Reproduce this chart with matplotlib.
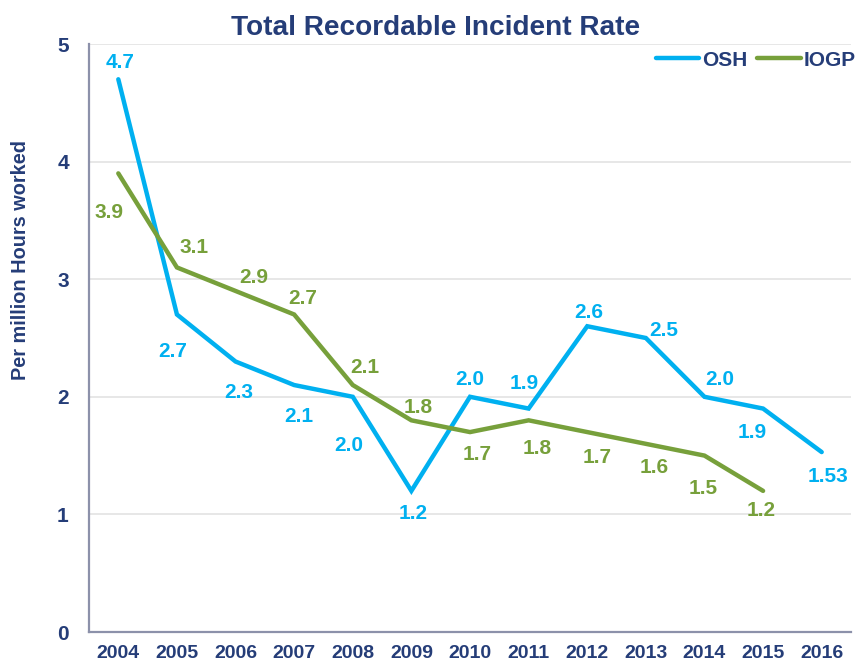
import matplotlib
matplotlib.use("Agg")
import matplotlib.pyplot as plt
from matplotlib.lines import Line2D

plt.rcParams['font.family'] = ['Liberation Sans', 'DejaVu Sans']

years = ["2004", "2005", "2006", "2007", "2008", "2009", "2010",
         "2011", "2012", "2013", "2014", "2015", "2016"]
osh = [4.7, 2.7, 2.3, 2.1, 2.0, 1.2, 2.0, 1.9, 2.6, 2.5, 2.0, 1.9, 1.53]
iogp = [3.9, 3.1, 2.9, 2.7, 2.1, 1.8, 1.7, 1.8, 1.7, 1.6, 1.5, 1.2]
osh_labels = ["4.7", "2.7", "2.3", "2.1", "2.0", "1.2", "2.0", "1.9", "2.6",
              "2.5", "2.0", "1.9", "1.53"]
iogp_labels = ["3.9", "3.1", "2.9", "2.7", "2.1", "1.8", "1.7", "1.8", "1.7",
               "1.6", "1.5", "1.2"]

# label offsets in pixels (dx right, dy down as in image)
osh_off = [(2, -17), (-4, 37), (3, 31), (5, 31), (-4, 49), (2, 23), (0, -17),
           (-4, -25), (2, -14), (18, -8), (15, -17), (-11, 24), (6, 24)]
iogp_off = [(-9, 39), (17, -20), (18, -13), (9, -16), (12, -18), (7, -13),
            (7, 22), (9, 28), (10, 25), (8, 24), (-1, 33), (-2, 20)]

BLUE = "#00B0F0"
GREEN = "#77A03B"
NAVY = "#253D78"
SPINE = "#8C91AA"

fig = plt.figure(figsize=(8.58, 6.64), dpi=100)
ax = fig.add_axes([89 / 858, 1 - 632 / 664, (851 - 89) / 858, (632 - 44) / 664])

x_osh = list(range(len(osh)))
x_iogp = list(range(len(iogp)))
ax.plot(x_osh, osh, color=BLUE, lw=3.2, solid_capstyle='round',
        solid_joinstyle='miter', zorder=3)
ax.plot(x_iogp, iogp, color=GREEN, lw=3.2, solid_capstyle='round',
        solid_joinstyle='miter', zorder=3)

for xi, v, lab, (dx, dy) in zip(x_osh, osh, osh_labels, osh_off):
    ax.annotate(lab, (xi, v), xytext=(dx, -dy), textcoords='offset pixels',
                ha='center', va='center', color=BLUE, fontsize=15,
                fontweight='bold', zorder=4)
for xi, v, lab, (dx, dy) in zip(x_iogp, iogp, iogp_labels, iogp_off):
    ax.annotate(lab, (xi, v), xytext=(dx, -dy), textcoords='offset pixels',
                ha='center', va='center', color=GREEN, fontsize=15,
                fontweight='bold', zorder=4)

ax.set_xlim(-0.5, len(years) - 0.5)
ax.set_ylim(0, 5)
ax.set_xticks(range(len(years)))
ax.set_xticklabels(years)
ax.set_yticks([0, 1, 2, 3, 4, 5])
ax.tick_params(axis='both', length=0, labelsize=14, labelcolor=NAVY)
ax.tick_params(axis='y', pad=14.5, labelsize=15)
ax.tick_params(axis='x', pad=9)
for lab in ax.get_xticklabels() + ax.get_yticklabels():
    lab.set_fontweight('bold')

ax.grid(axis='y', color='#E3E3E3', lw=1.2, zorder=0)
ax.set_axisbelow(True)
for s in ['top', 'right']:
    ax.spines[s].set_visible(False)
for s in ['left', 'bottom']:
    ax.spines[s].set_color(SPINE)
    ax.spines[s].set_linewidth(1.6)
ax.spines['bottom'].set_zorder(5)

fig.text(436 / 858, 1 - 28 / 664, "Total Recordable Incident Rate",
         ha='center', va='center', fontsize=20.2, fontweight='bold', color=NAVY)
fig.text(21 / 858, 1 - 260 / 664, "Per million Hours worked", rotation=90,
         ha='center', va='center', fontsize=14.3, fontweight='bold', color=NAVY)

handles = [Line2D([], [], color=BLUE, lw=3.2, solid_capstyle='round'),
           Line2D([], [], color=GREEN, lw=3.2, solid_capstyle='round')]
leg = fig.legend(handles, ["OSH", "IOGP"], loc='center right',
                 bbox_to_anchor=(856 / 858, 1 - 60 / 664), ncol=2,
                 frameon=False, handlelength=2.1, handletextpad=0.15,
                 columnspacing=0.45, borderaxespad=0, borderpad=0,
                 prop={'size': 15, 'weight': 'bold'})
for t in leg.get_texts():
    t.set_color(NAVY)

fig.savefig("out.png", dpi=100)
